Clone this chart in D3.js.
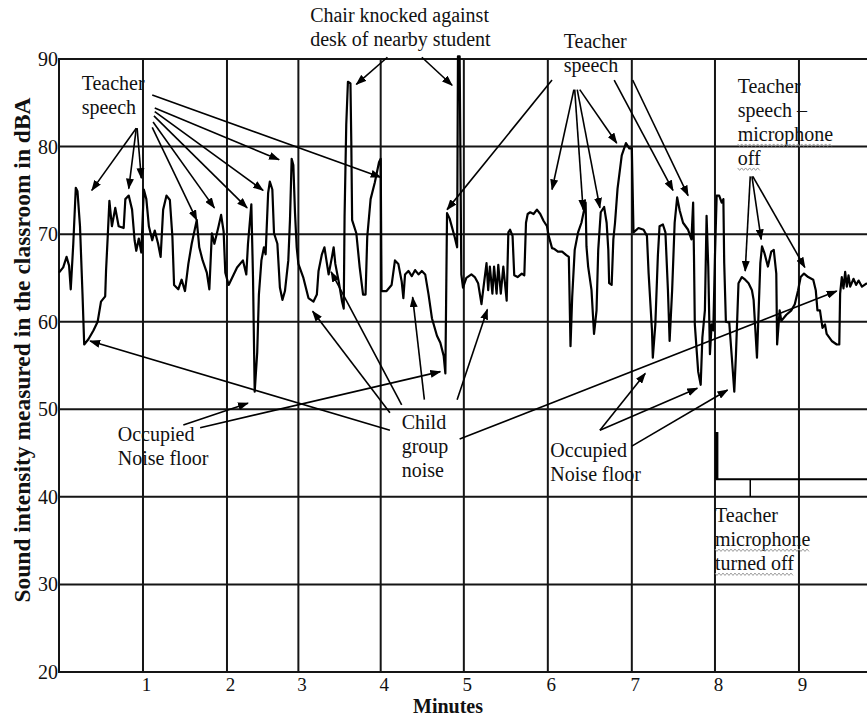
<!DOCTYPE html>
<html>
<head>
<meta charset="utf-8">
<script src="https://cdn.jsdelivr.net/npm/d3@7"></script>
<style>
  html, body { margin: 0; padding: 0; background: #fff; }
  svg { display: block; }
  text { font-family: "Liberation Serif", "Times New Roman", serif; fill: #111; }
</style>
</head>
<body>
<div id="chart"></div>
<script>
// Classroom sound level trace — scanned-figure look, flat SVG
(function () {
  "use strict";

  // Sound trace (minutes, dBA)
  const traceMinutes = [
    0.00, 0.05, 0.09, 0.12, 0.14, 0.17, 0.20, 0.22, 0.25, 0.28, 0.30, 0.35, 0.41, 0.46, 0.50,
    0.55, 0.56, 0.58, 0.60, 0.63, 0.67, 0.71, 0.77, 0.79, 0.83, 0.87, 0.90, 0.92, 0.95, 0.98,
    1.01, 1.04, 1.07, 1.11, 1.14, 1.18, 1.21, 1.24, 1.28, 1.32, 1.35, 1.37, 1.42, 1.46, 1.50,
    1.54, 1.58, 1.64, 1.67, 1.71, 1.76, 1.79, 1.82, 1.85, 1.90, 1.93, 1.96, 1.98, 2.02, 2.06,
    2.12, 2.19, 2.23, 2.25, 2.29, 2.31, 2.33, 2.36, 2.38, 2.41, 2.44, 2.46, 2.49, 2.51, 2.54,
    2.56, 2.60, 2.63, 2.66, 2.69, 2.73, 2.75, 2.77, 2.79, 2.81, 2.83, 2.85, 2.91, 2.97, 3.03,
    3.07, 3.09, 3.13, 3.16, 3.21, 3.25, 3.27, 3.29, 3.33, 3.37, 3.39, 3.40, 3.42, 3.44, 3.47,
    3.48, 3.49, 3.54, 3.58, 3.62, 3.65, 3.67, 3.71, 3.76, 3.81, 3.83, 3.84, 3.90, 3.96, 4.00,
    4.04, 4.08, 4.10, 4.12, 4.16, 4.20, 4.24, 4.28, 4.32, 4.36, 4.40, 4.44, 4.50, 4.54, 4.58,
    4.60, 4.62, 4.65, 4.71, 4.74, 4.75, 4.77, 4.79, 4.81, 4.85, 4.91, 4.95, 4.99, 5.03, 5.05,
    5.09, 5.11, 5.13, 5.16, 5.18, 5.21, 5.23, 5.26, 5.29, 5.33, 5.35, 5.37, 5.40, 5.42, 5.46,
    5.51, 5.54, 5.56, 5.58, 5.61, 5.65, 5.69, 5.73, 5.77, 5.81, 5.83, 5.87, 5.90, 5.94, 5.99,
    6.04, 6.07, 6.09, 6.11, 6.14, 6.18, 6.22, 6.27, 6.28, 6.30, 6.34, 6.37, 6.40, 6.42, 6.45,
    6.49, 6.52, 6.54, 6.55, 6.58, 6.60, 6.62, 6.65, 6.70, 6.75, 6.79, 6.82, 6.84, 6.90, 6.96,
    7.00, 7.02, 7.06, 7.07, 7.10, 7.13, 7.15, 7.19, 7.22, 7.25, 7.27, 7.30, 7.33, 7.36, 7.39,
    7.43, 7.49, 7.53, 7.55, 7.56, 7.57, 7.61, 7.64, 7.66, 7.69, 7.71, 7.73, 7.75, 7.77, 7.79,
    7.81, 7.83, 7.86, 7.89, 7.91, 7.92, 7.94, 7.98, 8.01, 8.04, 8.06, 8.09, 8.13, 8.17, 8.21,
    8.25, 8.27, 8.31, 8.33, 8.35, 8.37, 8.40, 8.44, 8.48, 8.51, 8.54, 8.55, 8.58, 8.60, 8.66,
    8.72, 8.76, 8.80, 8.83, 8.87, 8.92, 8.98, 9.01, 9.03, 9.06, 9.09, 9.12, 9.14, 9.20, 9.26,
    9.29, 9.30, 9.32, 9.34, 9.36, 9.38, 9.40, 9.42, 9.46, 9.49, 9.52, 9.56, 9.62
  ];
  const traceDBA = [
    65.6, 66.2, 67.4, 66.4, 63.7, 68.9, 75.3, 74.9, 70.9, 63.1, 57.4, 58.0, 59.0, 60.0, 62.3,
    62.9, 65.8, 69.7, 73.8, 70.9, 73.0, 70.9, 70.7, 74.0, 74.4, 72.8, 69.3, 68.1, 69.5, 67.9,
    75.1, 74.0, 70.9, 69.3, 70.4, 68.9, 67.4, 72.8, 74.4, 73.9, 69.7, 64.2, 63.7, 64.8, 63.5,
    66.6, 68.9, 71.6, 68.5, 67.0, 65.6, 63.7, 70.1, 68.9, 70.9, 72.2, 70.3, 65.6, 64.2, 65.0,
    66.2, 67.0, 65.4, 68.9, 73.4, 65.0, 52.0, 56.5, 63.1, 67.0, 68.5, 67.7, 74.7, 76.0, 75.1,
    70.1, 68.9, 63.9, 62.5, 63.5, 67.0, 71.6, 78.6, 77.9, 72.4, 68.5, 66.6, 65.0, 62.7, 62.3,
    63.1, 65.8, 67.7, 68.5, 65.4, 67.4, 68.5, 66.6, 64.6, 62.3, 61.5, 72.0, 82.5, 87.4, 87.2,
    80.6, 71.6, 70.1, 66.2, 63.1, 63.1, 69.7, 74.0, 75.9, 78.2, 78.6, 63.5, 63.5, 64.2, 67.0,
    66.6, 64.6, 62.7, 65.4, 65.8, 65.2, 65.9, 65.4, 65.8, 65.4, 63.1, 60.4, 58.4, 57.6, 56.1,
    54.1, 72.4, 71.8, 69.7, 68.5, 90.3, 90.3, 65.4, 63.9, 65.0, 65.4, 65.1, 64.4, 62.0, 63.6,
    66.7, 63.6, 66.3, 63.2, 66.3, 63.2, 66.5, 63.2, 66.3, 62.4, 70.2, 70.5, 69.8, 65.3, 65.1,
    65.5, 65.3, 71.3, 72.3, 72.5, 72.3, 72.8, 72.3, 71.5, 70.9, 69.8, 68.4, 68.3, 68.0, 68.0,
    67.6, 67.4, 57.2, 62.8, 68.2, 70.2, 71.3, 73.6, 68.6, 66.3, 63.6, 58.6, 61.3, 68.2, 72.5,
    73.1, 71.3, 68.2, 64.4, 64.2, 69.4, 71.3, 75.2, 79.0, 80.4, 79.8, 79.8, 70.2, 70.7, 70.5,
    69.8, 65.5, 59.0, 55.9, 59.7, 67.5, 70.9, 71.1, 70.2, 63.6, 57.8, 63.6, 71.3, 74.2, 72.7,
    71.3, 70.5, 69.4, 73.6, 67.5, 59.7, 54.3, 52.8, 58.2, 61.3, 72.1, 66.3, 56.3, 59.7, 59.0,
    67.5, 74.4, 74.4, 73.6, 74.0, 66.7, 60.0, 59.9, 56.0, 52.0, 56.3, 64.4, 65.1, 64.8, 64.4,
    63.6, 62.5, 55.9, 61.3, 66.7, 68.6, 67.8, 66.3, 68.0, 68.2, 65.5, 57.4, 61.3, 60.1, 60.8,
    61.3, 62.0, 63.6, 65.1, 65.5, 65.1, 64.8, 63.6, 61.3, 61.3, 59.3, 59.7, 58.6, 57.8, 57.4,
    57.4, 63.2, 65.1, 63.8, 65.7, 64.0, 65.3, 64.0, 64.9, 64.2, 64.7, 64.0, 64.4
  ];

  // Axis values
  const yTicks = [20, 30, 40, 50, 60, 70, 80, 90];
  // minute gridlines sit unevenly in the figure (the "3" line is drawn early)
  const gridMinutes = [1, 2, 2.85, 3.83, 4.82, 5.82, 6.82, 7.81, 8.81];
  const xTickLabels = ["1", "2", "3", "4", "5", "6", "7", "8", "9"];

  // Annotation text blocks: first baseline anchored at [minute, dBA]
  const notes = [
    { lines: ["Teacher", "speech"], at: [0.27, 86.5], wavy: [] },
    { lines: ["Chair knocked against", "desk of nearby student"], at: [2.99, 94.2], wavy: [] },
    { lines: ["Teacher", "speech"], at: [6.01, 91.3], wavy: [] },
    { lines: ["Teacher", "speech \u2013", "microphone", "off"], at: [8.08, 86.1], wavy: [2, 3] },
    { lines: ["Occupied", "Noise floor"], at: [0.70, 46.4], wavy: [] },
    { lines: ["Child", "group", "noise"], at: [4.08, 47.7], wavy: [] },
    { lines: ["Occupied", "Noise floor"], at: [5.85, 44.6], wavy: [] },
    { lines: ["Teacher", "microphone", "turned off"], at: [7.81, 37.1], wavy: [1, 2] },
  ];

  // Arrows: [from, to] in [minute, dBA]
  const arrows = [
    [[0.92, 82.1], [0.39, 75.0]],
    [[0.92, 82.1], [0.83, 75.2]],
    [[0.93, 82.1], [0.98, 76.4]],
    [[1.11, 82.2], [1.64, 71.6]],
    [[1.12, 82.8], [1.85, 73.0]],
    [[1.13, 83.5], [2.24, 73.0]],
    [[1.14, 84.0], [2.43, 75.0]],
    [[1.14, 84.4], [2.62, 78.5]],
    [[1.11, 85.9], [3.83, 76.5]],
    [[3.91, 90.2], [3.54, 87.1]],
    [[4.32, 90.2], [4.68, 87.0]],
    [[5.87, 87.6], [4.62, 72.8]],
    [[6.13, 86.5], [5.87, 75.1]],
    [[6.14, 86.5], [6.24, 72.8]],
    [[6.17, 86.5], [6.44, 73.0]],
    [[6.20, 86.5], [6.64, 80.4]],
    [[6.61, 87.6], [7.31, 75.0]],
    [[6.83, 87.6], [7.49, 74.4]],
    [[8.23, 76.6], [8.17, 65.8]],
    [[8.25, 76.6], [8.36, 69.4]],
    [[8.26, 76.6], [8.88, 66.2]],
    [[1.48, 48.2], [2.25, 50.7]],
    [[1.68, 47.9], [4.54, 54.3]],
    [[3.94, 47.6], [0.37, 57.8]],
    [[3.94, 49.6], [3.02, 61.2]],
    [[4.08, 50.5], [3.24, 65.7]],
    [[4.35, 51.1], [4.21, 62.8]],
    [[4.74, 51.1], [5.10, 61.4]],
    [[4.77, 46.6], [9.26, 63.5]],
    [[6.44, 47.6], [6.98, 54.1]],
    [[6.44, 47.6], [7.60, 52.4]],
    [[6.82, 45.8], [7.96, 52.2]],
  ];

  // "microphone turned off" bracket
  const micOffStep = [[7.83, 47.4], [7.83, 42.0], [9.62, 42.0]];
  const micOffTick = [[8.23, 42.0], [8.23, 40.0]];

  const width = 867;
  const height = 717;

  const svg = d3
    .select("#chart")
    .append("svg")
    .attr("width", width)
    .attr("height", height)
    .attr("viewBox", `0 0 ${width} ${height}`);

  svg.append("rect").attr("width", width).attr("height", height).attr("fill", "#fff");

  const x = d3.scaleLinear().domain([0, 9.62]).range([59, 867]);
  const y = d3.scaleLinear().domain([20, 90]).range([672, 59]);

  // Arrow head marker
  const defs = svg.append("defs");
  defs
    .append("marker")
    .attr("id", "head")
    .attr("viewBox", "0 0 11 8")
    .attr("refX", 10)
    .attr("refY", 4)
    .attr("markerWidth", 11)
    .attr("markerHeight", 8)
    .attr("markerUnits", "userSpaceOnUse")
    .attr("orient", "auto")
    .append("path")
    .attr("d", "M0,0L11,4L0,8Z")
    .attr("fill", "#000");

  // Grid
  const grid = svg.append("g").attr("stroke", "#151515").attr("stroke-width", 2);

  grid
    .selectAll("line.h")
    .data(yTicks)
    .join("line")
    .attr("class", "h")
    .attr("x1", x(0))
    .attr("x2", width)
    .attr("y1", (d) => y(d))
    .attr("y2", (d) => y(d));

  grid
    .selectAll("line.v")
    .data([0].concat(gridMinutes))
    .join("line")
    .attr("class", "v")
    .attr("x1", (d) => x(d))
    .attr("x2", (d) => x(d))
    .attr("y1", y(90) - 1)
    .attr("y2", y(20) + 1);

  // Tick labels
  svg
    .append("g")
    .selectAll("text")
    .data(yTicks)
    .join("text")
    .attr("x", x(0) - 1)
    .attr("y", (d) => y(d))
    .attr("dy", "0.35em")
    .attr("text-anchor", "end")
    .attr("font-size", 20)
    .text((d) => d);

  svg
    .append("g")
    .selectAll("text")
    .data(gridMinutes)
    .join("text")
    .attr("x", (d) => x(d) + 3.5)
    .attr("y", y(20) + 18.5)
    .attr("text-anchor", "middle")
    .attr("font-size", 19)
    .text((d, i) => xTickLabels[i]);

  // Axis titles
  svg
    .append("text")
    .attr("x", 448)
    .attr("y", 712.5)
    .attr("text-anchor", "middle")
    .attr("font-size", 20)
    .attr("font-weight", "bold")
    .text("Minutes");

  svg
    .append("text")
    .attr("transform", "translate(30,350) rotate(-90)")
    .attr("text-anchor", "middle")
    .attr("font-size", 23.5)
    .attr("font-weight", "bold")
    .text("Sound intensity measured in the classroom in dBA");

  // Sound trace
  const line = d3
    .line()
    .x((d, i) => x(traceMinutes[i]))
    .y((d) => y(d));

  svg
    .append("path")
    .attr("d", line(traceDBA))
    .attr("fill", "none")
    .attr("stroke", "#000")
    .attr("stroke-width", 2.2)
    .attr("stroke-linejoin", "round");

  // Mic-off bracket
  const plain = d3.line().x((d) => x(d[0])).y((d) => y(d[1]));
  svg
    .append("path")
    .attr("d", plain(micOffStep))
    .attr("fill", "none")
    .attr("stroke", "#000")
    .attr("stroke-width", 2);
  svg
    .append("path")
    .attr("d", plain(micOffStep.slice(0, 2)))
    .attr("stroke", "#000")
    .attr("stroke-width", 3.5);
  svg
    .append("path")
    .attr("d", plain(micOffTick))
    .attr("stroke", "#000")
    .attr("stroke-width", 1.5);

  // Arrows
  svg
    .append("g")
    .selectAll("line")
    .data(arrows)
    .join("line")
    .attr("x1", (d) => x(d[0][0]))
    .attr("y1", (d) => y(d[0][1]))
    .attr("x2", (d) => x(d[1][0]))
    .attr("y2", (d) => y(d[1][1]))
    .attr("stroke", "#000")
    .attr("stroke-width", 1.6)
    .attr("marker-end", "url(#head)");

  // Annotation text (with spell-check squiggles where the figure has them)
  const lineGap = 24;
  notes.forEach((note) => {
    note.lines.forEach((txt, i) => {
      const t = svg
        .append("text")
        .attr("x", x(note.at[0]))
        .attr("y", y(note.at[1]) + i * lineGap)
        .attr("font-size", 20)
        .text(txt);

      if (note.wavy.includes(i)) {
        const w = t.node().getComputedTextLength();
        const x0 = x(note.at[0]);
        const yy = y(note.at[1]) + i * lineGap + 4;
        const pts = d3.range(0, w, 2).map((d, k) => [x0 + d, yy + (k % 2 ? 1.2 : -1.2)]);
        svg
          .append("path")
          .attr("d", d3.line()(pts))
          .attr("fill", "none")
          .attr("stroke", "#9a9a9a")
          .attr("stroke-width", 1);
      }
    });
  });
})();
</script>
</body>
</html>
